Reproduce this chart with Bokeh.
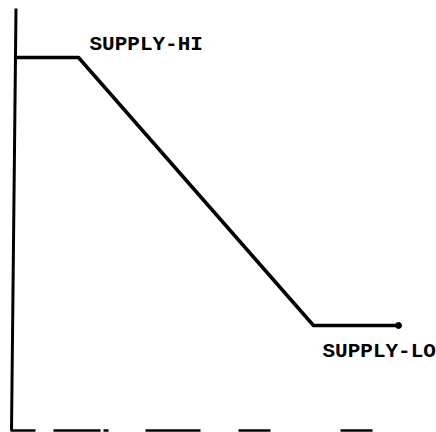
from bokeh.plotting import figure
from bokeh.models import Range1d
from bokeh.embed import file_html
from bokeh.resources import INLINE
from bokeh.core.properties import value

# Supply level trace (arbitrary units: time vs. level)
trace_t = [0.3, 6.7, 30.2, 38.7]
trace_v = [37.3, 37.3, 10.5, 10.5]

# Vertical (level) axis line
yaxis_t = [0.0, 0.45]
yaxis_v = [0.0, 42.2]

# Dashed time axis segments (start, end)
dash_start = [-0.1, 4.2, 9.2, 13.4, 22.7, 32.9]
dash_end = [2.4, 8.9, 9.7, 18.9, 25.9, 36.1]

# Labels
label_text = ["SUPPLY-HI", "SUPPLY-LO"]
label_t = [7.8, 31.1]
label_v = [38.6, 7.9]

p = figure(width=436, height=432, output_backend="svg", toolbar_location=None,
           x_range=Range1d(-1.1, 42.5), y_range=Range1d(-0.2, 43.0),
           min_border=0)
p.axis.visible = False
p.grid.visible = False
p.outline_line_color = None
p.background_fill_color = "white"
p.border_fill_color = "white"

p.line(yaxis_t, yaxis_v, line_color="black", line_width=3)
p.segment(x0=dash_start, y0=[0] * len(dash_start), x1=dash_end, y1=[0] * len(dash_end),
          line_color="black", line_width=2.5)
p.line(trace_t, trace_v, line_color="black", line_width=3.5, line_join="round")
p.scatter([trace_t[-1]], [trace_v[-1]], size=6, color="black")

p.text(x=label_t, y=label_v, text=label_text, text_font=value("Liberation Mono"),
       text_font_size="21px", text_font_style="bold", text_color="black",
       text_baseline="middle", text_align="left")

open("out.html", "w").write(file_html(p, INLINE))
